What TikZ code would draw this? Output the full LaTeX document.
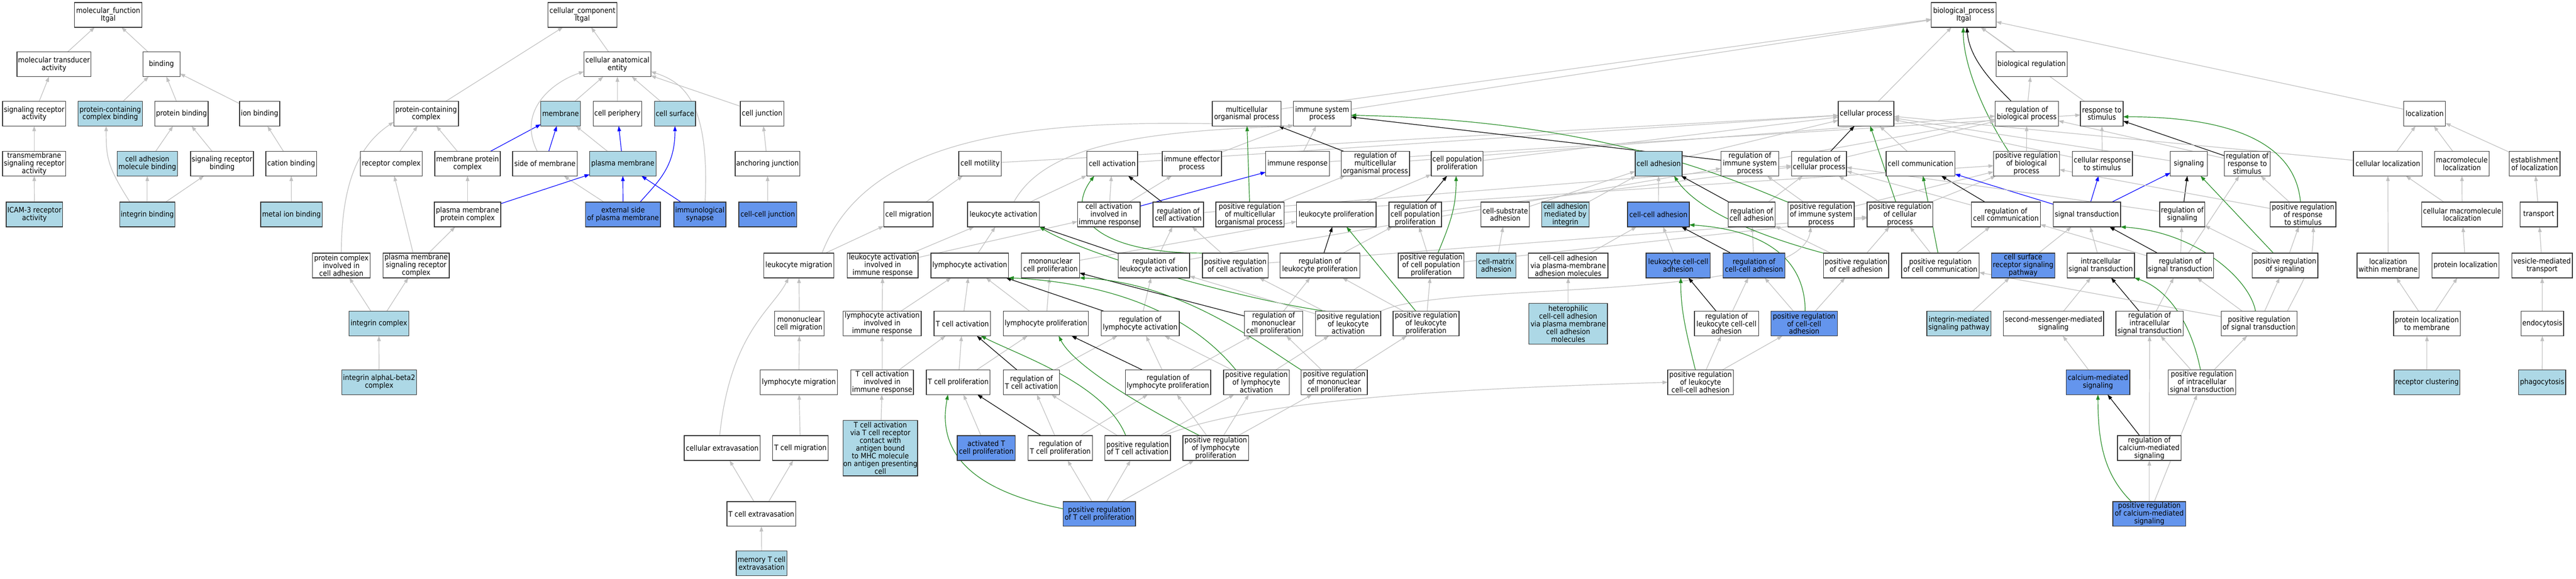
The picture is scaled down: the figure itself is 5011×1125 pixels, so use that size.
\documentclass[tikz,border=0pt]{standalone}
\usepackage{fontspec}
\IfFontExistsTF{DejaVu Sans Condensed}{\setmainfont{DejaVu Sans Condensed}}{\setmainfont[FakeStretch=0.9]{DejaVu Sans}}
\usetikzlibrary{arrows.meta,backgrounds}
\definecolor{lb}{HTML}{ADD8E6}
\definecolor{db}{HTML}{6495ED}
\definecolor{edgegray}{HTML}{C0C0C0}
\definecolor{fgreen}{HTML}{228B22}
\tikzset{
 nbox/.style={rectangle,draw=black!80,line width=1.4pt,inner sep=0pt,outer sep=0pt,align=center,font=\fontsize{14.5}{15}\selectfont},
 egray/.style={draw=edgegray,line width=1.2pt,-{Triangle[length=10pt,width=7pt]}},
 eblack/.style={egray,draw=black},
 egreen/.style={egray,draw=fgreen},
 eblue/.style={egray,draw=blue},
}
\newcommand\nd[7]{\node[nbox,fill=#6,minimum width={#3-#2},minimum height=#5] (#1) at ({(#2+#3)/2},#4) {#7};}
\newcommand\ed[3][egray]{\draw[#1] (#2) -- (#3);}
\begin{document}
\begin{tikzpicture}[x=1pt,y=-1pt]
\useasboundingbox (0,0) rectangle (5011,1125);
% ---------- molecular function ----------
\nd{mf}{145}{276}{29}{48}{white}{molecular\_function\\Itgal}
\nd{mta}{33}{177}{125}{48}{white}{molecular transducer\\activity}
\nd{bind}{278}{350}{125}{48}{white}{binding}
\nd{sra}{5}{128}{221}{48}{white}{signaling receptor\\activity}
\nd{pccb}{152}{277}{221}{48}{lb}{protein-containing\\complex binding}
\nd{pb}{301}{405}{221}{48}{white}{protein binding}
\nd{ionb}{466}{544}{221}{48}{white}{ion binding}
\nd{tsra}{5}{128}{318}{48}{white}{transmembrane\\signaling receptor\\activity}
\nd{camb}{228}{345}{318}{48}{lb}{cell adhesion\\molecule binding}
\nd{srb}{371}{493}{318}{48}{white}{signaling receptor\\binding}
\nd{catb}{517}{616}{318}{48}{white}{cation binding}
\nd{icam}{12}{122}{417}{48}{lb}{ICAM-3 receptor\\activity}
\nd{intb}{233}{340}{417}{48}{lb}{integrin binding}
\nd{mib}{507}{627}{417}{48}{lb}{metal ion binding}
% ---------- cellular component ----------
\nd{cc}{1066}{1200}{29}{48}{white}{cellular\_component\\Itgal}
\nd{cae}{1136}{1266}{125}{48}{white}{cellular anatomical\\entity}
\nd{pcc}{766}{892}{221}{48}{white}{protein-containing\\complex}
\nd{mem}{1052}{1129}{221}{48}{lb}{membrane}
\nd{cper}{1154}{1248}{221}{48}{white}{cell periphery}
\nd{csurf}{1273}{1353}{221}{48}{lb}{cell surface}
\nd{cj}{1440}{1525}{221}{48}{white}{cell junction}
\nd{rc}{701}{821}{318}{48}{white}{receptor complex}
\nd{mpc}{846}{973}{318}{48}{white}{membrane protein\\complex}
\nd{som}{997}{1123}{318}{48}{white}{side of membrane}
\nd{pm}{1147}{1276}{318}{48}{lb}{plasma membrane}
\nd{aj}{1430}{1556}{318}{48}{white}{anchoring junction}
\nd{pmpc}{845}{974}{417}{48}{white}{plasma membrane\\protein complex}
\nd{espm}{1139}{1285}{417}{48}{db}{external side\\of plasma membrane}
\nd{isyn}{1311}{1412}{417}{48}{db}{immunological\\synapse}
\nd{ccj}{1437}{1550}{417}{48}{db}{cell-cell junction}
\nd{pcica}{608}{720}{516}{48}{white}{protein complex\\involved in\\cell adhesion}
\nd{pmsrc}{745}{874}{516}{48}{white}{plasma membrane\\signaling receptor\\complex}
\nd{intc}{679}{795}{629}{48}{lb}{integrin complex}
\nd{intab}{665}{810}{743}{48}{lb}{integrin alphaL-beta2\\complex}
% ---------- biological process ----------
\nd{bp}{3757}{3883}{29}{48}{white}{biological\_process\\Itgal}
\nd{breg}{3883}{4021}{125}{48}{white}{biological regulation}
% R3
\nd{mop}{2358}{2492}{221}{48}{white}{multicellular\\organismal process}
\nd{isp}{2516}{2628}{221}{48}{white}{immune system\\process}
\nd{cproc}{3576}{3684}{221}{48}{white}{cellular process}
\nd{rbp}{3881}{4004}{221}{48}{white}{regulation of\\biological process}
\nd{rts}{4047}{4130}{221}{48}{white}{response to\\stimulus}
\nd{loc}{4676}{4757}{221}{48}{white}{localization}
% R4
\nd{cmot}{1865}{1948}{318}{48}{white}{cell motility}
\nd{cact}{2114}{2213}{318}{48}{white}{cell activation}
\nd{iep}{2261}{2376}{318}{48}{white}{immune effector\\process}
\nd{iresp}{2462}{2586}{318}{48}{white}{immune response}
\nd{rmop}{2609}{2742}{318}{48}{white}{regulation of\\multicellular\\organismal process}
\nd{cpp}{2784}{2885}{318}{48}{white}{cell population\\proliferation}
\nd{cadh}{3181}{3272}{318}{48}{lb}{cell adhesion}
\nd{risp}{3348}{3460}{318}{48}{white}{regulation of\\immune system\\process}
\nd{rcp}{3485}{3592}{318}{48}{white}{regulation of\\cellular process}
\nd{ccom}{3669}{3803}{318}{48}{white}{cell communication}
\nd{prbp}{3878}{4006}{318}{48}{white}{positive regulation\\of biological\\process}
\nd{crts}{4031}{4148}{318}{48}{white}{cellular response\\to stimulus}
\nd{sig}{4222}{4294}{318}{48}{white}{signaling}
\nd{rrts}{4327}{4416}{318}{48}{white}{regulation of\\response to\\stimulus}
\nd{cloc}{4578}{4712}{318}{48}{white}{cellular localization}
\nd{mloc}{4736}{4842}{318}{48}{white}{macromolecule\\localization}
\nd{eloc}{4881}{4980}{318}{48}{white}{establishment\\of localization}
% R5
\nd{cmig}{1719}{1815}{417}{48}{white}{cell migration}
\nd{lact}{1882}{2022}{417}{48}{white}{leukocyte activation}
\nd{caiir}{2096}{2218}{417}{48}{white}{cell activation\\involved in\\immune response}
\nd{rca}{2243}{2341}{417}{48}{white}{regulation of\\cell activation}
\nd{prmop}{2365}{2498}{417}{48}{white}{positive regulation\\of multicellular\\organismal process}
\nd{lprol}{2522}{2677}{417}{48}{white}{leukocyte proliferation}
\nd{rcpp}{2702}{2804}{417}{48}{white}{regulation of\\cell population\\proliferation}
\nd{csa}{2881}{2975}{417}{48}{white}{cell-substrate\\adhesion}
\nd{cami}{2999}{3091}{417}{48}{lb}{cell adhesion\\mediated by\\integrin}
\nd{ccadh}{3166}{3286}{417}{48}{db}{cell-cell adhesion}
\nd{rcadh}{3362}{3453}{417}{48}{white}{regulation of\\cell adhesion}
\nd{prisp}{3478}{3607}{417}{48}{white}{positive regulation\\of immune system\\process}
\nd{prcp}{3632}{3760}{417}{48}{white}{positive regulation\\of cellular\\process}
\nd{rcc}{3835}{3969}{417}{48}{white}{regulation of\\cell communication}
\nd{st}{3994}{4125}{417}{48}{white}{signal transduction}
\nd{rsig}{4201}{4289}{417}{48}{white}{regulation of\\signaling}
\nd{prrts}{4416}{4544}{417}{48}{white}{positive regulation\\of response\\to stimulus}
\nd{cmloc}{4711}{4868}{417}{48}{white}{cellular macromolecule\\localization}
\nd{transp}{4902}{4975}{417}{48}{white}{transport}
% R6
\nd{lmig}{1486}{1622}{516}{48}{white}{leukocyte migration}
\nd{laiir}{1648}{1786}{516}{48}{white}{leukocyte activation\\involved in\\immune response}
\nd{lyact}{1811}{1962}{516}{48}{white}{lymphocyte activation}
\nd{mcp}{1987}{2100}{516}{48}{white}{mononuclear\\cell proliferation}
\nd{rla}{2175}{2314}{516}{48}{white}{regulation of\\leukocyte activation}
\nd{prca}{2339}{2467}{516}{48}{white}{positive regulation\\of cell activation}
\nd{rlp}{2490}{2645}{516}{48}{white}{regulation of\\leukocyte proliferation}
\nd{prcpp}{2720}{2848}{516}{48}{white}{positive regulation\\of cell population\\proliferation}
\nd{cma}{2872}{2949}{516}{48}{lb}{cell-matrix\\adhesion}
\nd{ccapm}{2973}{3128}{516}{48}{white}{cell-cell adhesion\\via plasma-membrane\\adhesion molecules}
\nd{lcca}{3202}{3327}{516}{48}{db}{leukocyte cell-cell\\adhesion}
\nd{rcca}{3352}{3472}{516}{48}{db}{regulation of\\cell-cell adhesion}
\nd{prcadh}{3547}{3674}{516}{48}{white}{positive regulation\\of cell adhesion}
\nd{prcc}{3699}{3850}{516}{48}{white}{positive regulation\\of cell communication}
\nd{csrsp}{3874}{3997}{516}{48}{db}{cell surface\\receptor signaling\\pathway}
\nd{ist}{4021}{4152}{516}{48}{white}{intracellular\\signal transduction}
\nd{rst}{4176}{4306}{516}{48}{white}{regulation of\\signal transduction}
\nd{prsig}{4381}{4509}{516}{48}{white}{positive regulation\\of signaling}
\nd{lwm}{4585}{4706}{516}{48}{white}{localization\\within membrane}
\nd{ploc}{4731}{4861}{516}{48}{white}{protein localization}
\nd{vmt}{4886}{5004}{516}{48}{white}{vesicle-mediated\\transport}
% R7
\nd{mcmig}{1507}{1603}{629}{48}{white}{mononuclear\\cell migration}
\nd{lyaiir}{1640}{1792}{629}{48}{white}{lymphocyte activation\\involved in\\immune response}
\nd{tca}{1817}{1927}{629}{48}{white}{T cell activation}
\nd{lyprol}{1952}{2117}{629}{48}{white}{lymphocyte proliferation}
\nd{rlya}{2142}{2294}{629}{48}{white}{regulation of\\lymphocyte activation}
\nd{rmcp}{2421}{2534}{629}{48}{white}{regulation of\\mononuclear\\cell proliferation}
\nd{prla}{2559}{2686}{629}{48}{white}{positive regulation\\of leukocyte\\activation}
\nd{prlp}{2710}{2838}{629}{48}{white}{positive regulation\\of leukocyte\\proliferation}
\nd{hetero}{2974}{3127}{629.5}{79}{lb}{heterophilic\\cell-cell adhesion\\via plasma membrane\\cell adhesion\\molecules}
\nd{rlcca}{3296}{3421}{629}{48}{white}{regulation of\\leukocyte cell-cell\\adhesion}
\nd{prcca}{3445}{3574}{629}{48}{db}{positive regulation\\of cell-cell\\adhesion}
\nd{imsp}{3748}{3873}{629}{48}{lb}{integrin-mediated\\signaling pathway}
\nd{smms}{3897}{4092}{629}{48}{white}{second-messenger-mediated\\signaling}
\nd{rist}{4116}{4247}{629}{48}{white}{regulation of\\intracellular\\signal transduction}
\nd{prst}{4321}{4468}{629}{48}{white}{positive regulation\\of signal transduction}
\nd{pltm}{4656}{4786}{629}{48}{white}{protein localization\\to membrane}
\nd{endo}{4904}{4987}{629}{48}{white}{endocytosis}
% R8
\nd{lymig}{1479}{1629}{743}{48}{white}{lymphocyte migration}
\nd{tcaiir}{1655}{1777}{743}{48}{white}{T cell activation\\involved in\\immune response}
\nd{tprol}{1802}{1926}{743}{48}{white}{T cell proliferation}
\nd{rtca}{1952}{2061}{743}{48}{white}{regulation of\\T cell activation}
\nd{rlyp}{2189}{2355}{743}{48}{white}{regulation of\\lymphocyte proliferation}
\nd{prlya}{2380}{2508}{743}{48}{white}{positive regulation\\of lymphocyte\\activation}
\nd{prmcp}{2531}{2660}{743}{48}{white}{positive regulation\\of mononuclear\\cell proliferation}
\nd{prlcca}{3244}{3372}{743}{48}{white}{positive regulation\\of leukocyte\\cell-cell adhesion}
\nd{cms}{4019}{4143}{743}{48}{db}{calcium-mediated\\signaling}
\nd{prist}{4218}{4349}{743}{48}{white}{positive regulation\\of intracellular\\signal transduction}
\nd{rclust}{4657}{4785}{743}{48}{lb}{receptor clustering}
\nd{phago}{4899}{4991}{743}{48}{lb}{phagocytosis}
% R9
\nd{cext}{1331}{1479}{871}{48}{white}{cellular extravasation}
\nd{tmig}{1503}{1611}{871}{48}{white}{T cell migration}
\nd{tcavia}{1640}{1785}{871}{108}{lb}{T cell activation\\via T cell receptor\\contact with\\antigen bound\\to MHC molecule\\on antigen presenting\\cell}
\nd{atcp}{1862}{1975}{871}{48}{db}{activated T\\cell proliferation}
\nd{rtcp}{2000}{2125}{871}{48}{white}{regulation of\\T cell proliferation}
\nd{prtca}{2149}{2277}{871}{48}{white}{positive regulation\\of T cell activation}
\nd{prlyp}{2301}{2429}{871}{48}{white}{positive regulation\\of lymphocyte\\proliferation}
\nd{rcms}{4119}{4243}{871}{48}{white}{regulation of\\calcium-mediated\\signaling}
% R10, R11
\nd{tcext}{1414}{1548}{999}{48}{white}{T cell extravasation}
\nd{prtcp}{2068}{2209}{999}{48}{db}{positive regulation\\of T cell proliferation}
\nd{prcms}{4110}{4252}{999}{48}{db}{positive regulation\\of calcium-mediated\\signaling}
\nd{mtce}{1432}{1531}{1095}{48}{lb}{memory T cell\\extravasation}

\begin{pgfonlayer}{background}
\fill[white] (0,0) rectangle (5011,1125);
% MF edges
\ed{mta}{mf}\ed{bind}{mf}\ed{sra}{mta}\ed{pccb}{bind}\ed{pb}{bind}\ed{ionb}{bind}
\ed{tsra}{sra}\ed{camb}{pb}\ed{srb}{pb}\ed{catb}{ionb}\ed{icam}{tsra}
\ed{intb}{camb}\ed{intb}{srb}\ed{mib}{catb}
\draw[egray] ([xshift=20]intb.north west) .. controls +(-45,-70) and +(0,60) .. ([xshift=-8]pccb.south);
% CC edges
\ed{pcc}{cc}\ed{cae}{cc}\ed{mem}{cae}\ed{cper}{cae}\ed{csurf}{cae}\ed{cj}{cae}
\ed{rc}{pcc}\ed{mpc}{pcc}\ed[eblue]{mpc}{mem}\ed[eblue]{som}{mem}\ed{pm}{mem}
\ed[eblue]{pm}{cper}\ed[eblue]{espm}{pm}\ed{espm}{som}\ed[eblue]{isyn}{pm}
\ed{pmpc}{mpc}\ed[eblue]{pmpc}{pm}\ed{aj}{cj}\ed{ccj}{aj}
\ed{pmsrc}{rc}\ed{pmsrc}{pmpc}\ed{intc}{pcica}\ed{intc}{pmsrc}\ed{intab}{intc}
\draw[egray] (pcica.north) .. controls +(0,-150) and +(-60,40) .. ([yshift=8]pcc.south west);
\draw[egray] ([xshift=-15]som.north) .. controls +(-40,-80) and +(-60,20) .. ([yshift=-14]cae.west);
\draw[egray] ([xshift=10]isyn.north) .. controls +(10,-200) and +(60,20) .. ([yshift=-14]cae.east);
\draw[eblue] ([xshift=33]espm.north) .. controls +(35,-40) and +(0,80) .. (csurf.south);
% BP top
\ed{mop}{bp}\ed{isp}{bp}\ed{cproc}{bp}\ed{rts}{bp}\ed{loc}{bp}\ed{breg}{bp}\ed{rbp}{breg}
\draw[eblack] ([xshift=-30]rbp.north) .. controls +(-40,-40) and +(5,60) .. ([xshift=6]bp.south);
\draw[egreen] ([xshift=-35]prbp.north) .. controls +(-40,-60) and +(0,80) .. ([xshift=-1]bp.south);
% R4 -> up
\ed{cmot}{cproc}\ed{cact}{cproc}\ed{iep}{isp}\ed{iresp}{isp}\ed{iresp}{rts}
\ed[eblack]{rmop}{mop}\ed{rmop}{rbp}\ed{cpp}{cproc}\ed{cadh}{cproc}
\ed[eblack]{risp}{isp}\ed{risp}{rbp}\ed[eblack]{rcp}{cproc}\ed{rcp}{rbp}
\ed{ccom}{cproc}\ed{prbp}{rbp}\ed{crts}{rts}\ed{crts}{cproc}\ed{sig}{cproc}
\ed[eblack]{rrts}{rts}\ed{rrts}{rbp}\ed{cloc}{loc}\ed{mloc}{loc}\ed{eloc}{loc}\ed{cloc}{cproc}
% R5 -> up
\ed{cmig}{cmot}\ed{lact}{cact}
\draw[egray] ([xshift=20]lact.north) .. controls +(60,-110) and +(-300,10) .. (isp.south west);
\ed{caiir}{cact}\ed{caiir}{iep}\ed[eblue]{caiir}{iresp}
\ed[eblack]{rca}{cact}\ed{rca}{rcp}
\ed[egreen]{prmop}{mop}\ed{prmop}{rmop}\ed{prmop}{prbp}
\ed{lprol}{cpp}\ed[eblack]{rcpp}{cpp}\ed{rcpp}{rcp}
\ed{csa}{cadh}\ed{cami}{cadh}\ed{ccadh}{cadh}
\ed[eblack]{rcadh}{cadh}\ed{rcadh}{rcp}
\draw[egreen] (prisp.north west) .. controls +(-100,-40) and +(500,10) .. ([yshift=-3]isp.east);
\ed{prisp}{risp}\ed{prisp}{prbp}
\ed[egreen]{prcp}{cproc}\ed{prcp}{rcp}\ed{prcp}{prbp}
\ed[eblack]{rcc}{ccom}\ed{rcc}{rcp}
\ed[eblue]{st}{ccom}\ed[eblue]{st}{crts}\ed[eblue]{st}{sig}
\ed[eblack]{rsig}{sig}\ed{rsig}{rcp}
\draw[egreen] ([xshift=-5]prrts.north) .. controls +(-10,-120) and +(200,0) .. ([yshift=-6]rts.east);
\ed{prrts}{rrts}\ed{prrts}{prbp}
\ed{cmloc}{mloc}\ed{cmloc}{cloc}\ed{transp}{eloc}
% R6 -> up
\ed{lmig}{cmig}
\draw[egray] ([xshift=45]lmig.north) .. controls +(100,-260) and +(-416,-15) .. (isp.south west);
\ed{laiir}{lact}\ed{laiir}{caiir}\ed{lyact}{lact}\ed{mcp}{lprol}
\ed[eblack]{rla}{lact}\ed{rla}{rca}\ed{rla}{risp}
\draw[egreen] (prca.north west) .. controls +(-200,0) and +(-60,80) .. ([xshift=-35]cact.south);
\ed{prca}{rca}\ed{prca}{prcp}
\ed[eblack]{rlp}{lprol}\ed{rlp}{rcpp}
\draw[egreen] ([xshift=13]prcpp.north) .. controls +(25,-60) and +(0,60) .. ([xshift=-2]cpp.south);
\ed{prcpp}{rcpp}\ed{prcpp}{prcp}
\ed{cma}{csa}\ed{ccapm}{ccadh}\ed{lcca}{ccadh}
\ed[eblack]{rcca}{ccadh}\ed{rcca}{rcadh}
\draw[egreen] (prcadh.north west) .. controls +(-150,-40) and +(40,60) .. ([xshift=30]cadh.south);
\ed{prcadh}{rcadh}\ed{prcadh}{prcp}
\ed[egreen]{prcc}{ccom}\ed{prcc}{rcc}\ed{prcc}{prcp}
\ed{csrsp}{st}\ed{ist}{st}
\ed[eblack]{rst}{st}\ed{rst}{rsig}\ed{rst}{rrts}\ed{rst}{rcc}
\ed[egreen]{prsig}{sig}\ed{prsig}{rsig}\ed{prsig}{prrts}
\ed{lwm}{cloc}\ed{ploc}{cmloc}\ed{vmt}{transp}
% R7 -> up
\ed{mcmig}{lmig}\ed{lyaiir}{laiir}\ed{lyaiir}{lyact}\ed{tca}{lyact}
\ed{lyprol}{mcp}\ed{lyprol}{lyact}
\ed[eblack]{rlya}{lyact}\ed{rlya}{rla}
\ed[eblack]{rmcp}{mcp}\ed{rmcp}{rlp}
\draw[egreen] ([xshift=-42]prla.north) .. controls +(-150,-20) and +(100,60) .. (lact.south east);
\ed{prla}{rla}\ed{prla}{prca}
\draw[egray] (prla.north east) .. controls +(120,-60) and +(-20,150) .. ([xshift=-20]prisp.south);
\ed[egreen]{prlp}{lprol}\ed{prlp}{rlp}\ed{prlp}{prcpp}
\ed{hetero}{ccapm}
\ed[eblack]{rlcca}{lcca}\ed{rlcca}{rcca}
\draw[egreen] ([xshift=2]prcca.north) .. controls +(0,-100) and +(150,10) .. ([yshift=-20]ccadh.east);
\ed{prcca}{rcca}\ed{prcca}{prcadh}
\ed{imsp}{csrsp}\ed{smms}{ist}
\ed[eblack]{rist}{ist}\ed{rist}{rst}
\draw[egreen] ([xshift=-7]prst.north) .. controls +(-10,-60) and +(150,10) .. (st.south east);
\ed{prst}{rst}\ed{prst}{prsig}\ed{prst}{prcc}
\draw[egray] ([xshift=55]prst.north) .. controls +(30,-60) and +(0,80) .. ([xshift=20]prrts.south);
\ed{pltm}{ploc}\ed{pltm}{lwm}\ed{endo}{vmt}
% R8 -> up
\ed{lymig}{mcmig}\ed{tcaiir}{lyaiir}\ed{tcaiir}{tca}
\ed{tprol}{tca}\ed{tprol}{lyprol}
\ed[eblack]{rtca}{tca}\ed{rtca}{rlya}
\ed[eblack]{rlyp}{lyprol}\ed{rlyp}{rlya}\ed{rlyp}{rmcp}
\draw[egreen] ([xshift=-40]prlya.north) .. controls +(-90,-110) and +(200,10) .. (lyact.south east);
\ed{prlya}{rlya}\ed{prlya}{prla}
\draw[egreen] (prmcp.north west) .. controls +(-80,-50) and +(200,10) .. (mcp.south east);
\ed{prmcp}{rmcp}\ed{prmcp}{prlp}
\ed{prlcca}{rlcca}\ed{prlcca}{prcca}
\draw[egreen] ([xshift=-10]prlcca.north) .. controls +(-20,-80) and +(0,60) .. ([xshift=5]lcca.south);
\ed{cms}{smms}
\ed{prist}{rist}\ed{prist}{prst}
\draw[egreen] ([xshift=-3]prist.north) .. controls +(-20,-100) and +(60,20) .. (ist.south east);
\ed{rclust}{pltm}\ed{phago}{endo}
% R9 -> up
\draw[egray] ([xshift=-5]cext.north) .. controls +(20,-200) and +(-30,60) .. ([xshift=-20]lmig.south);
\ed{tmig}{lymig}\ed{tcavia}{tcaiir}\ed{atcp}{tprol}
\ed[eblack]{rtcp}{tprol}\ed{rtcp}{rtca}\ed{rtcp}{rlyp}
\draw[egreen] ([xshift=-23]prtca.north) .. controls +(-40,-100) and +(80,40) .. ([xshift=36]tca.south);
\ed{prtca}{rtca}\ed{prtca}{prlya}
\draw[egray] ([xshift=50]prtca.north) .. controls +(200,-80) and +(-300,10) .. (prlcca.west);
\draw[egreen] ([xshift=-31]prlyp.north) .. controls +(-100,-50) and +(30,60) .. ([xshift=25]lyprol.south);
\ed{prlyp}{rlyp}\ed{prlyp}{prlya}\ed{prlyp}{prmcp}
\ed[eblack]{rcms}{cms}\ed{rcms}{rist}
% R10, R11 -> up
\ed{tcext}{cext}\ed{tcext}{tmig}
\ed{prtcp}{rtcp}\ed{prtcp}{prtca}\ed{prtcp}{prlyp}
\draw[egreen] ([yshift=10]prtcp.west) .. controls +(-150,-30) and +(-25,130) .. ([xshift=-20]tprol.south);
\ed{prcms}{rcms}\ed{prcms}{prist}
\draw[egreen] ([xshift=-35]prcms.north) .. controls +(-50,-50) and +(0,100) .. (cms.south);
\ed{mtce}{tcext}
\end{pgfonlayer}
\end{tikzpicture}
\end{document}
